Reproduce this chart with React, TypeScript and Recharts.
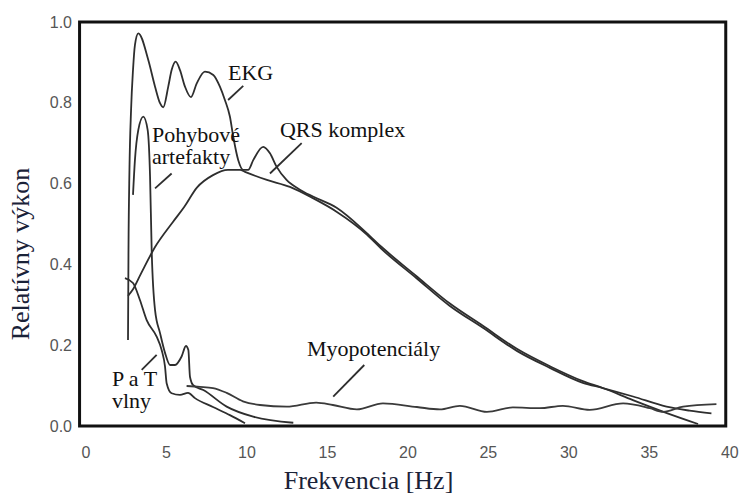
import React from 'react';
import { ComposedChart, Line, XAxis, YAxis, Scatter, ReferenceArea, Label } from 'recharts';

type P = [number, number];

const xTicks = [0, 5, 10, 15, 20, 25, 30, 35, 40];
const yTicks = [0, 0.2, 0.4, 0.6, 0.8, 1.0];

const ekgPts: P[] = [
  [2.61, 0.213], [2.64, 0.436], [2.7, 0.634], [2.8, 0.782], [2.92, 0.881], [3.04, 0.943], [3.25, 0.972],
  [3.87, 0.906], [4.29, 0.84], [4.6, 0.799], [4.8, 0.789], [5.11, 0.84], [5.32, 0.881], [5.57, 0.902],
  [5.84, 0.881], [6.15, 0.84], [6.52, 0.814], [6.88, 0.848], [7.39, 0.877], [7.91, 0.869], [8.32, 0.84],
  [8.63, 0.807], [8.94, 0.766], [9.15, 0.716], [9.46, 0.658], [9.77, 0.634], [10.08, 0.634], [10.39, 0.658],
  [11.01, 0.691], [11.43, 0.675], [11.84, 0.642], [12.46, 0.609], [13.29, 0.585], [14.1, 0.568],
  [15.57, 0.54], [17.43, 0.478], [18.37, 0.443], [20.5, 0.372], [22.61, 0.303], [24.66, 0.248],
  [26.77, 0.191], [28.82, 0.148], [30.87, 0.111], [32.11, 0.094], [33.98, 0.064], [36.09, 0.032], [38.03, 0.005],
];

const qrsPts: P[] = [
  [2.61, 0.322], [2.9, 0.337], [3.4, 0.376], [4.29, 0.443], [5.4, 0.505], [6.1, 0.542], [6.89, 0.59],
  [7.89, 0.621], [8.82, 0.634], [9.57, 0.634], [9.88, 0.629], [11.24, 0.609], [12.67, 0.592], [14.1, 0.564],
  [15.59, 0.53], [17.45, 0.474], [18.37, 0.438], [20.5, 0.367], [22.61, 0.297], [24.66, 0.243],
  [26.77, 0.186], [28.82, 0.144], [30.87, 0.107], [32.11, 0.094], [33.99, 0.073], [36.07, 0.048],
  [37.5, 0.038], [38.86, 0.031],
];

const artefactPts: P[] = [
  [2.92, 0.572], [3.04, 0.658], [3.25, 0.733], [3.56, 0.766], [3.83, 0.733], [3.98, 0.617], [4.08, 0.436],
  [4.29, 0.287], [4.6, 0.23], [4.91, 0.181], [5.22, 0.151], [5.53, 0.151], [5.94, 0.172], [6.21, 0.198],
  [6.36, 0.188], [6.46, 0.122], [6.66, 0.101], [7.29, 0.089], [8.74, 0.048], [10.39, 0.023], [12.88, 0.008],
];

const ptWavePts: P[] = [
  [2.42, 0.366], [2.92, 0.354], [3.35, 0.312], [3.77, 0.262], [4.39, 0.221], [4.7, 0.188], [4.91, 0.147],
  [5.01, 0.106], [5.32, 0.081], [5.84, 0.077], [6.34, 0.082], [6.77, 0.069], [7.89, 0.047], [8.94, 0.027],
  [9.88, 0.007],
];

const myoPts: P[] = [
  [6.25, 0.099], [7.08, 0.097], [7.89, 0.094], [8.74, 0.082], [9.75, 0.061], [10.81, 0.052], [12.47, 0.048],
  [14.3, 0.058], [15.34, 0.052], [16.83, 0.041], [18.45, 0.056], [20.56, 0.047], [21.99, 0.041],
  [23.23, 0.05], [24.91, 0.035], [26.52, 0.046], [28.2, 0.044], [29.63, 0.05], [31.3, 0.04], [33.37, 0.056],
  [35.03, 0.044], [35.86, 0.035], [37.1, 0.048], [39.17, 0.054],
];

const leaderLines: P[][] = [
  [[8.83, 0.807], [9.77, 0.842]],
  [[4.29, 0.588], [5.32, 0.625]],
  [[11.43, 0.625], [13.4, 0.7]],
  [[3.46, 0.139], [4.39, 0.176]],
  [[15.36, 0.073], [17.29, 0.151]],
];

const annotationTexts = ['EKG', 'QRS komplex', 'Pohybové', 'artefakty', 'P a T', 'vlny', 'Myopotenciály'];
const annotationAt: P[] = [
  [8.82, 0.856], [12.05, 0.715], [4.1, 0.703], [4.1, 0.649], [1.61, 0.099], [1.61, 0.045], [13.73, 0.173],
];

const toData = (pts: P[]) => pts.map(([x, y]) => ({ x, y }));
const annotations = annotationTexts.map((text, i) => ({ x: annotationAt[i][0], y: annotationAt[i][1], text }));

const LINE = '#2e2e2e';
const SERIF = '"Liberation Serif", "Times New Roman", serif';
const LABEL_COLOR = '#1a2238';

const renderAnnotation = (p: any) => (
  <text x={p.cx} y={p.cy} fill="#111" fontSize={22} fontFamily={SERIF} textAnchor="start">
    {p.payload.text}
  </text>
);

const XLabel = (props: any) => {
  const vb = props.viewBox || { x: 79, y: 426 };
  return (
    <text x={vb.x + 289.5} y={vb.y + 63} fill={LABEL_COLOR} fontSize={26} fontFamily={SERIF} textAnchor="middle">
      Frekvencia [Hz]
    </text>
  );
};

const YLabel = (props: any) => {
  const vb = props.viewBox || { x: 0, y: 22 };
  const cx = vb.x + 29;
  const cy = vb.y + 232;
  return (
    <text x={cx} y={cy} transform={`rotate(-90 ${cx} ${cy})`} fill={LABEL_COLOR} fontSize={26} fontFamily={SERIF} textAnchor="middle">
      Relatívny výkon
    </text>
  );
};

export default function App() {
  return (
    <div style={{ position: 'absolute', left: 0, top: 0, width: 741, height: 494, background: '#fff' }}>
      <ComposedChart width={741} height={494} margin={{ top: 22, right: 8, bottom: 0, left: 0 }}>
        <XAxis
          type="number"
          dataKey="x"
          domain={[-0.435, 40.2]}
          ticks={xTicks}
          interval={0}
          allowDataOverflow
          axisLine={false}
          tickLine={false}
          tickSize={0}
          tickMargin={21}
          height={68}
          tick={{ fill: '#555', fontSize: 16, fontFamily: '"Liberation Sans", Arial, sans-serif' }}
          label={<Label content={XLabel} />}
        />
        <YAxis
          type="number"
          dataKey="y"
          domain={[0, 1]}
          ticks={yTicks}
          interval={0}
          allowDataOverflow
          axisLine={false}
          tickLine={false}
          tickSize={0}
          tickMargin={7}
          width={79}
          tickFormatter={(v: number) => v.toFixed(1)}
          tick={{ fill: '#555', fontSize: 16, fontFamily: '"Liberation Sans", Arial, sans-serif' }}
          label={<Label content={YLabel} />}
        />
        <ReferenceArea x1={-0.4} x2={39.75} y1={0} y2={1} fill="none" fillOpacity={0} stroke="#111" strokeWidth={3} ifOverflow="visible" />
        <Line data={toData(ekgPts)} dataKey="y" type="monotone" stroke={LINE} strokeWidth={1.8} dot={false} isAnimationActive={false} />
        <Line data={toData(qrsPts)} dataKey="y" type="monotone" stroke={LINE} strokeWidth={1.8} dot={false} isAnimationActive={false} />
        <Line data={toData(artefactPts)} dataKey="y" type="monotone" stroke={LINE} strokeWidth={1.8} dot={false} isAnimationActive={false} />
        <Line data={toData(ptWavePts)} dataKey="y" type="monotone" stroke={LINE} strokeWidth={1.8} dot={false} isAnimationActive={false} />
        <Line data={toData(myoPts)} dataKey="y" type="monotone" stroke="#3a3a3a" strokeWidth={1.8} dot={false} isAnimationActive={false} />
        {leaderLines.map((seg, i) => (
          <Line key={i} data={toData(seg)} dataKey="y" type="linear" stroke={LINE} strokeWidth={1.8} dot={false} isAnimationActive={false} />
        ))}
        <Scatter data={annotations} dataKey="y" shape={renderAnnotation} isAnimationActive={false} />
      </ComposedChart>
    </div>
  );
}
